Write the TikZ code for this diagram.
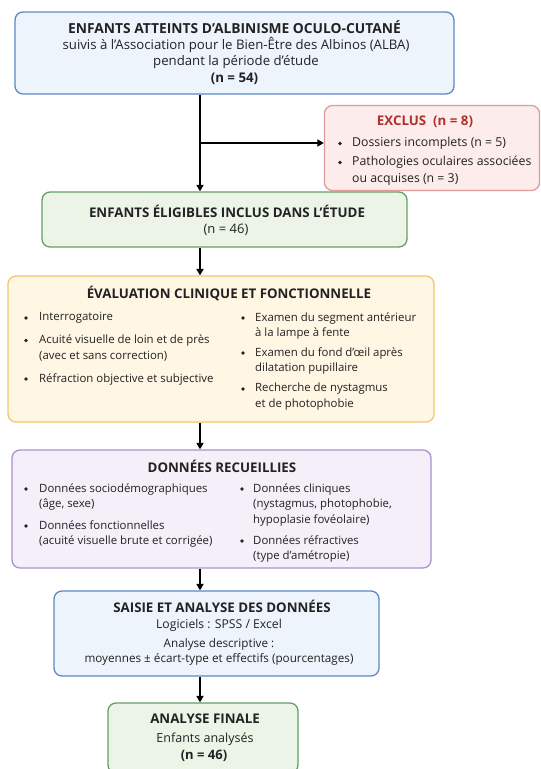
\documentclass[tikz,border=0pt]{standalone}
\usepackage{fontspec}
\setmainfont{Open Sans}
\usetikzlibrary{arrows.meta}
\definecolor{bluefill}{HTML}{EEF4FC}
\definecolor{blueline}{HTML}{5B89C4}
\definecolor{pinkfill}{HTML}{FCECEB}
\definecolor{pinkline}{HTML}{E29B98}
\definecolor{redtxt}{HTML}{B0302A}
\definecolor{greenfill}{HTML}{ECF4E8}
\definecolor{greenline}{HTML}{64A062}
\definecolor{yelfill}{HTML}{FFF6E4}
\definecolor{yelline}{HTML}{F2C66C}
\definecolor{purfill}{HTML}{F4EFF9}
\definecolor{purline}{HTML}{AA92CC}
\definecolor{txt}{HTML}{222222}
\begin{document}
\begin{tikzpicture}[x=1pt,y=-1pt,
  box/.style={draw, rounded corners=8pt, line width=1.3pt, inner sep=0pt},
  bluebox/.style={box, draw=blueline, fill=bluefill},
  pinkbox/.style={box, draw=pinkline, fill=pinkfill},
  greenbox/.style={box, draw=greenline, fill=greenfill},
  yelbox/.style={box, draw=yelline, fill=yelfill},
  purbox/.style={box, draw=purline, fill=purfill},
  ttl/.style={inner sep=0pt, text=txt, font=\fontsize{13.3}{16}\selectfont\bfseries},
  body/.style={inner sep=0pt, text=txt, align=center, font=\fontsize{12}{16}\selectfont},
  bul/.style={circle, inner sep=0pt, minimum size=3.9pt, fill=txt},
  itm/.style={inner sep=0pt, text=txt, align=left, anchor=west, font=\fontsize{11.4}{15.5}\selectfont},
  exitm/.style={itm, font=\fontsize{12.3}{16.5}\selectfont},
  arr/.style={-{Triangle[length=6.5pt,width=7pt]}, line width=1.7pt, black}
]
\useasboundingbox (0,0) rectangle (541,769);

% boxes
\node[bluebox, minimum width=439pt, minimum height=82pt] (b1) at (234.5,53) {};
\node[pinkbox, minimum width=215pt, minimum height=85pt] (ex) at (432,148) {};
\node[greenbox, minimum width=365pt, minimum height=55pt] (g1) at (224.5,219.5) {};
\node[yelbox, minimum width=426pt, minimum height=146pt] (ev) at (221,349) {};
\node[purbox, minimum width=419pt, minimum height=118pt] (dr) at (221.5,509) {};
\node[bluebox, minimum width=325pt, minimum height=85pt] (sa) at (216.5,633.5) {};
\node[greenbox, minimum width=190pt, minimum height=70pt] (fi) at (203,738) {};

% box 1 text
\node[ttl, font=\fontsize{13.8}{16}\selectfont\bfseries] (b1t) at (234.5,27.5) {ENFANTS ATTEINTS D’ALBINISME OCULO-CUTANÉ};
\node[body, font=\fontsize{13.2}{16.5}\selectfont] (b1a) at (236,53) {suivis à l’Association pour le Bien-Être des Albinos (ALBA)\\pendant la période d’étude};
\node[ttl] (b1n) at (234.5,79) {(n = 54)};

% excluded
\node[ttl, text=redtxt] (ext) at (425,122) {EXCLUS\ \ (n = 8)};
\node[bul] (exb1) at (340,143.5) {};
\node[exitm] (exi1) at (352,143.5) {Dossiers incomplets (n = 5)};
\node[bul] (exb2) at (340,162.5) {};
\node[exitm] (exi2) at (352,170.75) {Pathologies oculaires associées\\ou acquises (n = 3)};

% green 1
\node[ttl] (g1t) at (227,211) {ENFANTS ÉLIGIBLES INCLUS DANS L’ÉTUDE};
\node[body, font=\fontsize{13}{16}\selectfont] (g1n) at (226,230) {(n = 46)};

% evaluation
\node[ttl] (evt) at (229,293) {ÉVALUATION CLINIQUE ET FONCTIONNELLE};
\node[bul] (evb1) at (26,318) {};
\node[itm] (evi1) at (39,318) {Interrogatoire};
\node[bul] (evb2) at (26,340.5) {};
\node[itm] (evi2) at (39,348.25) {Acuité visuelle de loin et de près\\(avec et sans correction)};
\node[bul] (evb3) at (26,379) {};
\node[itm] (evi3) at (39,379) {Réfraction objective et subjective};
\node[bul] (evb4) at (243,318) {};
\node[itm] (evi4) at (255,325.75) {Examen du segment antérieur\\à la lampe à fente};
\node[bul] (evb5) at (243,353) {};
\node[itm] (evi5) at (255,360.75) {Examen du fond d’œil après\\dilatation pupillaire};
\node[bul] (evb6) at (243,389) {};
\node[itm] (evi6) at (255,396.75) {Recherche de nystagmus\\et de photophobie};

% donnees
\node[ttl] (drt) at (222,466) {DONNÉES RECUEILLIES};
\node[bul] (drb1) at (26,489) {};
\node[itm] (dri1) at (39,496.75) {Données sociodémographiques\\(âge, sexe)};
\node[bul] (drb2) at (26,526) {};
\node[itm] (dri2) at (39,533.75) {Données fonctionnelles\\(acuité visuelle brute et corrigée)};
\node[bul] (drb3) at (242,489) {};
\node[itm] (dri3) at (253,504.5) {Données cliniques\\(nystagmus, photophobie,\\hypoplasie fovéolaire)};
\node[bul] (drb4) at (242,541) {};
\node[itm] (dri4) at (253,548.75) {Données réfractives\\(type d’amétropie)};

% saisie
\node[ttl] (sat) at (222,606) {SAISIE ET ANALYSE DES DONNÉES};
\node[body, font=\fontsize{12.2}{16}\selectfont] (sa1) at (219,625) {Logiciels : SPSS / Excel};
\node[body, font=\fontsize{11.7}{15}\selectfont] (sa2) at (219,651.5) {Analyse descriptive :\\moyennes ± écart-type et effectifs (pourcentages)};

% final
\node[ttl] (fit) at (205,719) {ANALYSE FINALE};
\node[body, font=\fontsize{12.5}{16}\selectfont] (fi1) at (205,739) {Enfants analysés};
\node[ttl, font=\fontsize{13}{16}\selectfont\bfseries] (fin) at (204,755.5) {(n = 46)};

% connectors
\coordinate (ax) at (200,0);
\coordinate (br) at (200,143);
\draw[arr] (b1.south -| ax) -- (g1.north -| ax);
\draw[arr] (br) -- (ex.west |- br);
\draw[arr] (g1.south -| ax) -- (ev.north -| ax);
\draw[arr] (ev.south -| ax) -- (dr.north -| ax);
\draw[arr] (dr.south -| ax) -- (sa.north -| ax);
\draw[arr] (sa.south -| ax) -- (fi.north -| ax);
\end{tikzpicture}
\end{document}
